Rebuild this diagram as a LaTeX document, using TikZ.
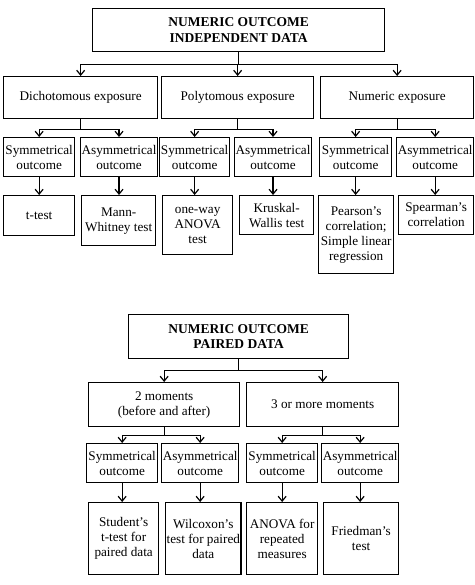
\documentclass[tikz,border=0pt]{standalone}
\usepackage{fontspec}
\setmainfont{Liberation Serif}
\usetikzlibrary{arrows.meta,positioning,calc}
\tikzset{box/.style={draw,line width=1.3pt,align=center,inner sep=1pt,anchor=north west,
    font=\fontsize{13.2}{15}\selectfont},
  sz/.style 2 args={minimum width=#1pt,minimum height=#2pt},
  title/.style={box,font=\fontsize{13.5}{15.5}\selectfont\bfseries},
  flow/.style={-{Straight Barb[length=1.7mm,width=2.8mm]},line width=1.2pt},
  bus/.style={line width=1.2pt}}
\begin{document}
\begin{tikzpicture}[x=1pt,y=-1pt]
\useasboundingbox[fill=white] (0,0) rectangle (474,585);
% independent data
\node[title,sz={292}{43}] (ind) at (92,8) {NUMERIC OUTCOME\\INDEPENDENT DATA};
\node[box,sz={154}{42}] (dich) at (3,76) {Dichotomous exposure};
\node[box,sz={152}{42}] (poly) at (161,76) {Polytomous exposure};
\node[box,sz={153}{42}] (num) at (320,76) {Numeric exposure};
\node[box,sz={71}{39}] (s1) at (3,137) {Symmetrical\\outcome};
\node[box,sz={75}{39}] (a1) at (80,137) {Asymmetrical\\outcome};
\node[box,sz={70}{39}] (s2) at (159,137) {Symmetrical\\outcome};
\node[box,sz={76}{39}] (a2) at (234,137) {Asymmetrical\\outcome};
\node[box,sz={72}{39}] (s3) at (319,137) {Symmetrical\\outcome};
\node[box,sz={77}{39}] (a3) at (396,137) {Asymmetrical\\outcome};
\node[box,sz={71}{40}] (ttest) at (3,195) {t-test};
\node[box,sz={74}{50}] (mann) at (81,195) {Mann-\\Whitney test};
\node[box,sz={70}{59}] (oneway) at (162,195) {one-way\\ANOVA\\test};
\node[box,sz={74}{39}] (krus) at (239,195) {Kruskal-\\Wallis test};
\node[box,sz={75}{78}] (pear) at (318,195) {Pearson's\\correlation;\\Simple linear\\regression};
\node[box,sz={75}{39}] (spear) at (398,195) {Spearman's\\correlation};
\draw[bus] (ind.south) -- ++(0,12) coordinate (b0);
\foreach \c in {dich,poly,num} \draw[flow] (b0) -| (\c.north);
\draw[bus] (dich.south) -- ++(0,10) coordinate (b1);
\draw[bus] (poly.south) -- ++(0,10) coordinate (b2);
\draw[bus] (num.south) -- ++(0,10) coordinate (b3);
\draw[flow] (b1) -| (s1.north); \draw[flow] (b1) -| (a1.north);
\draw[flow] (b2) -| (s2.north); \draw[flow] (b2) -| (a2.north);
\draw[flow] (b3) -| (s3.north); \draw[flow] (b3) -| (a3.north);
\foreach \u/\v in {s1/ttest,a1/mann,s2/oneway,a2/krus,s3/pear,a3/spear}
  \draw[flow] (\u.south) -- (\u.south |- \v.north);
% paired data
\node[title,sz={220}{44}] (pair) at (128,314) {NUMERIC OUTCOME\\PAIRED DATA};
\node[box,sz={151}{44}] (two) at (88,382) {2 moments\\(before and after)};
\node[box,sz={152}{44}] (three) at (246,382) {3 or more moments};
\node[box,sz={71}{39}] (ps1) at (86,443) {Symmetrical\\outcome};
\node[box,sz={77}{39}] (pa1) at (161,443) {Asymmetrical\\outcome};
\node[box,sz={71}{39}] (ps2) at (246,443) {Symmetrical\\outcome};
\node[box,sz={77}{39}] (pa2) at (321,443) {Asymmetrical\\outcome};
\node[box,sz={70}{72}] (stud) at (88,502) {Student's\\t-test for\\paired data};
\node[box,sz={74}{72}] (wilc) at (165,502) {Wilcoxon's\\test for paired\\data};
\node[box,sz={71}{72}] (anrep) at (246,502) {ANOVA for\\repeated\\measures};
\node[box,sz={75}{72}] (fried) at (323,502) {Friedman's\\test};
\draw[bus] (pair.south) -- ++(0,11) coordinate (c0);
\draw[flow] (c0) -| (two.north); \draw[flow] (c0) -| (three.north);
\draw[bus] (two.south) -- ++(0,8) coordinate (c1);
\draw[bus] (three.south) -- ++(0,8) coordinate (c2);
\draw[flow] (c1) -| (ps1.north); \draw[flow] (c1) -| (pa1.north);
\draw[flow] (c2) -| (ps2.north); \draw[flow] (c2) -| (pa2.north);
\foreach \u/\v in {ps1/stud,pa1/wilc,ps2/anrep,pa2/fried}
  \draw[flow] (\u.south) -- (\u.south |- \v.north);
\end{tikzpicture}
\end{document}
